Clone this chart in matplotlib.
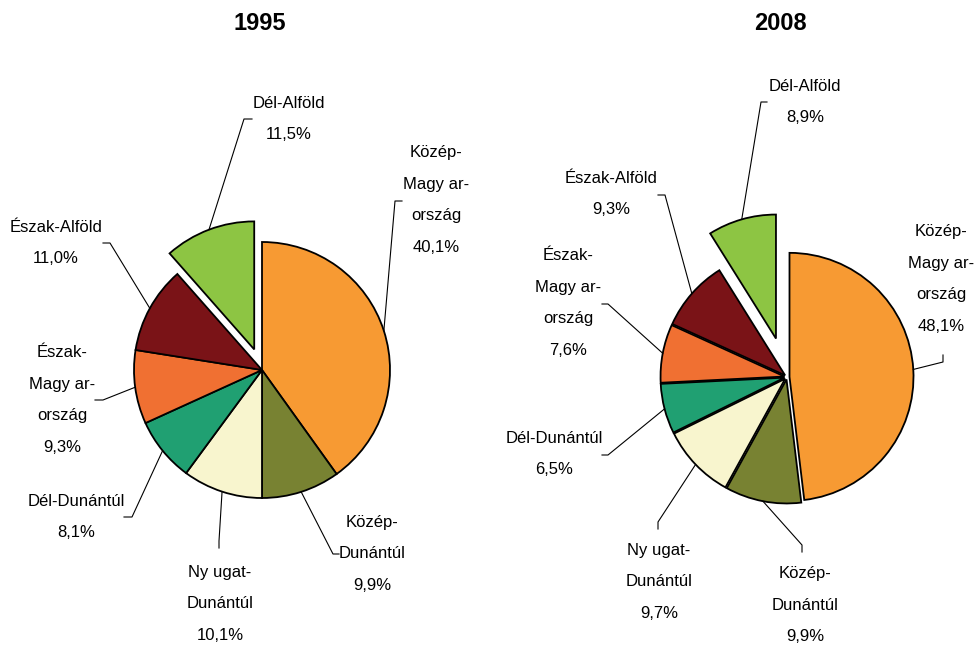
import matplotlib
matplotlib.use("Agg")
import matplotlib.pyplot as plt
import numpy as np
from matplotlib import font_manager

# data
regions = ["Közép-\nMagy ar-\nország", "Közép-\nDunántúl", "Ny ugat-\nDunántúl", "Dél-Dunántúl",
           "Észak-\nMagy ar-\nország", "Észak-Alföld", "Dél-Alföld"]
shares_1995 = [40.1, 9.9, 10.1, 8.1, 9.3, 11.0, 11.5]
shares_2008 = [48.1, 9.9, 9.7, 6.5, 7.6, 9.3, 8.9]
years = ["1995", "2008"]
colors = ["#F79A33", "#788232", "#F8F5CE", "#20A072", "#F07032", "#7A1317", "#8DC543"]

W, H = 975, 647

installed = {f.name for f in font_manager.fontManager.ttflist}
if "Liberation Sans Narrow" in installed:
    fam = ["Liberation Sans Narrow", "DejaVu Sans"]
    fs = 14
    ls = 1.75
else:
    fam = ["Liberation Sans", "DejaVu Sans"]
    fs = 12
    ls = 2.4
plt.rcParams["font.family"] = fam

# layout (image pixel coords, y down); explode given in pixels
centers = [(262, 370), (787, 377)]
radii = [128, 124]
explodes = [[0, 0, 0, 0, 0, 0, 22], [2.5, 2.5, 2.5, 2.5, 2.5, 2.5, 40]]
title_pos = [(260, 23), (780, 23)]
label_pos = [
    [(436, 200), (372, 554), (220, 604), (76, 517), (62, 400), (56, 243), (289, 119)],
    [(941, 279), (805, 605), (659, 582), (554, 454), (568, 303), (611, 194), (805, 102)],
]
elbows = [
    [(395, 201), (333, 554), (219, 541), (132, 517), (103, 400), (110, 243), (244, 119)],
    [(943, 362), (802, 545), (658, 522), (608, 455), (608, 304), (665, 195), (761, 102)],
]
tick_ends = [
    [(402, 201), (339, 554), (219, 548), (124, 517), (95, 400), (103, 243), (252, 119)],
    [(943, 355), (802, 552), (658, 529), (602, 455), (602, 304), (658, 195), (767, 102)],
]


def to_ax(p):
    return p[0], H - p[1]


fig = plt.figure(figsize=(W / 100, H / 100), dpi=100)
ax = fig.add_axes([0, 0, 1, 1])

for k, shares in enumerate([shares_1995, shares_2008]):
    cx, cy = to_ax(centers[k])
    r = radii[k]
    ax.pie(shares, colors=colors, startangle=90, counterclock=False, center=(cx, cy), radius=r,
           explode=explodes[k], wedgeprops=dict(edgecolor="black", linewidth=1.3))

    tx, ty = to_ax(title_pos[k])
    ax.text(tx, ty, years[k], ha="center", va="center", fontsize=17, fontweight="bold")

    cum = np.cumsum([0] + shares[:-1])
    for i, v in enumerate(shares):
        mid = np.deg2rad((cum[i] + v / 2) / 100 * 360)
        d = r + explodes[k][i]
        arc = (cx + d * np.sin(mid), cy + d * np.cos(mid))
        e = to_ax(elbows[k][i])
        t = to_ax(tick_ends[k][i])
        ax.plot([arc[0], e[0], t[0]], [arc[1], e[1], t[1]], color="black", linewidth=0.8)
        lx, ly = to_ax(label_pos[k][i])
        txt = regions[i] + "\n" + f"{v:.1f}%".replace(".", ",")
        ax.text(lx, ly, txt, ha="center", va="center", fontsize=fs, linespacing=ls,
                multialignment="center")

ax.set_xlim(0, W)
ax.set_ylim(0, H)
ax.set_aspect("equal")
ax.axis("off")
fig.savefig("out.png", dpi=100, facecolor="white")
